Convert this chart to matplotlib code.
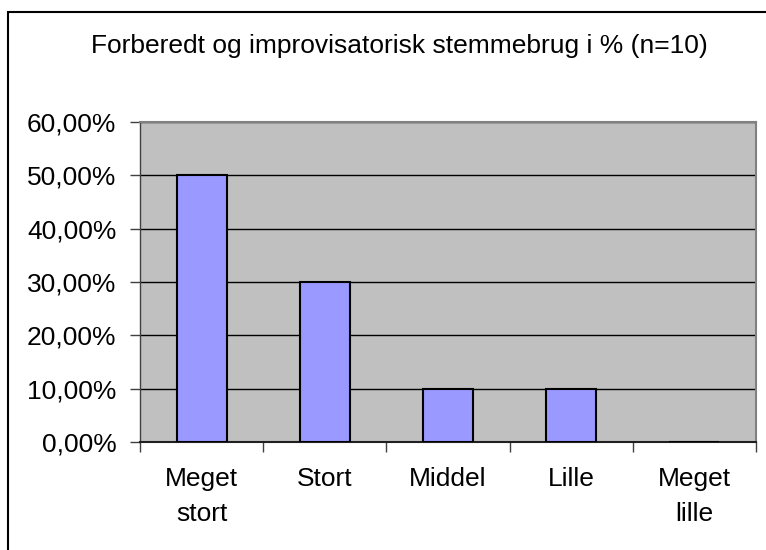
import matplotlib
matplotlib.use("Agg")
import matplotlib.pyplot as plt
from matplotlib.patches import Rectangle
from matplotlib.ticker import FixedLocator, FuncFormatter

categories = ["Meget\nstort", "Stort", "Middel", "Lille", "Meget\nlille"]
values = [50, 30, 10, 10, 0]
yticks = [0, 10, 20, 30, 40, 50, 60]
title = "Forberedt og improvisatorisk stemmebrug i % (n=10)"

W, H = 766, 550
plt.rcParams['font.family'] = ['Liberation Sans', 'DejaVu Sans']
fig = plt.figure(figsize=(W/100, H/100), dpi=100)

# outer border (right/bottom edges fall outside the image, as in the reference)
fig.patches.append(Rectangle((8/W, -10/H), (800)/W, (H - 12 + 10)/H, transform=fig.transFigure,
                             fill=False, edgecolor='black', linewidth=1.5, clip_on=False))

left, right, top, bottom = 140, 756, 122, 442
ax = fig.add_axes([left/W, (H-bottom)/H, (right-left)/W, (bottom-top)/H])
ax.set_facecolor('#C0C0C0')
x = range(len(categories))
ax.bar(x, values, width=0.405, color='#9999FF', edgecolor='black', linewidth=1.5, zorder=3)
ax.set_xlim(-0.5, len(categories)-0.5)
ax.set_ylim(0, 60)
ax.set_yticks(yticks)
ax.yaxis.set_major_formatter(FuncFormatter(lambda v, p: f"{v:.2f}".replace('.', ',') + "%"))
ax.yaxis.grid(True, color='black', linewidth=1, zorder=1)
ax.set_axisbelow(True)
ax.set_xticks(list(x))
ax.set_xticklabels(categories, fontsize=19, linespacing=1.58, va='top')
ax.xaxis.set_minor_locator(FixedLocator([i - 0.5 for i in range(len(categories)+1)]))
ax.tick_params(axis='x', which='major', length=0, pad=18)
ax.tick_params(axis='x', which='minor', length=7, width=1, color='#404040')
ax.tick_params(axis='y', length=7, width=1, color='#404040', labelsize=19, pad=10)
for s in ['top', 'right']:
    ax.spines[s].set_color('#808080')
    ax.spines[s].set_linewidth(1.5)
ax.spines['left'].set_color('#404040')
ax.spines['bottom'].set_color('#202020')
ax.spines['left'].set_linewidth(1)
ax.spines['bottom'].set_linewidth(1.5)

fig.text(399/W, 1 - 46/H, title, ha='center', va='center', fontsize=19)
fig.savefig("out.png", dpi=100)
